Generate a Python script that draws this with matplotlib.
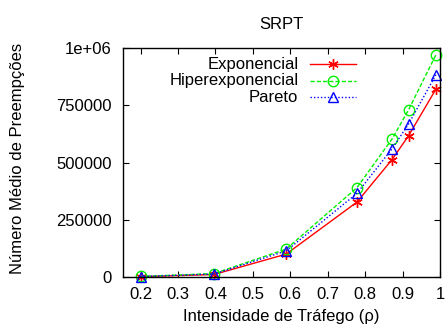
import matplotlib
matplotlib.use("Agg")
import matplotlib.pyplot as plt

plt.rcParams["font.family"] = ["Liberation Sans", "DejaVu Sans"]

rho = [0.2, 0.396, 0.589, 0.778, 0.872, 0.916, 0.989]
exponencial = [1500, 11000, 100000, 327000, 513000, 617000, 820000]
hiperexponencial = [2500, 15000, 122000, 390000, 603000, 730000, 970000]
pareto = [2000, 13000, 114000, 365000, 560000, 668000, 883000]

series = [
    ("Exponencial", exponencial, "#ff0000", "-", (6, 2, 0), "#ff0000"),
    ("Hiperexponencial", hiperexponencial, "#00f000", (0, (3, 1.5)), "o", "none"),
    ("Pareto", pareto, "#0000ff", (0, (1, 1.5)), "^", "none"),
]

x_ticks = [0.2, 0.3, 0.4, 0.5, 0.6, 0.7, 0.8, 0.9, 1.0]
x_labels = ["0.2", "0.3", "0.4", "0.5", "0.6", "0.7", "0.8", "0.9", "1"]
y_ticks = [0, 250000, 500000, 750000, 1000000]
y_labels = ["0", "250000", "500000", "750000", "1e+06"]

fs = 12

fig = plt.figure(figsize=(4.46, 3.29), dpi=100)
ax = fig.add_axes([0.2758, 0.158, 0.7107, 0.696])

for name, vals, color, ls, marker, fc in series:
    ax.plot(rho, vals, color=color, linestyle=ls, linewidth=1.0,
            marker=marker, markersize=7.5, markerfacecolor=fc,
            markeredgecolor=color, markeredgewidth=1.0, clip_on=False)

ax.set_xlim(0.153, 1.0)
ax.set_ylim(0, 1000000)
ax.set_xticks(x_ticks)
ax.set_xticklabels(x_labels)
ax.set_yticks(y_ticks)
ax.set_yticklabels(y_labels)
ax.tick_params(direction="in", top=True, right=True, length=4, width=0.8,
               labelsize=fs, colors="black")
ax.tick_params(axis="y", pad=8)
ax.tick_params(axis="x", pad=7)
for sp in ax.spines.values():
    sp.set_linewidth(1.0)

ax.set_title("SRPT", fontsize=fs, pad=14)
ax.set_xlabel("Intensidade de Tráfego (ρ)", fontsize=fs, labelpad=5)
ax.set_ylabel("Número Médio de Preempções", fontsize=fs)
ax.yaxis.set_label_coords(-0.31, 0.52)

# gnuplot-style key: right-aligned text followed by a sample line
for i, (name, vals, color, ls, marker, fc) in enumerate(series):
    yk = 0.93 - i * 0.073
    ax.text(0.553, yk, name, transform=ax.transAxes, ha="right",
            va="center", fontsize=fs)
    ax.plot([0.59, 0.735], [yk, yk], transform=ax.transAxes, color=color,
            linestyle=ls, linewidth=1.0, clip_on=False)
    ax.plot([0.662], [yk], transform=ax.transAxes, color=color,
            marker=marker, markersize=7.5, markerfacecolor=fc,
            markeredgecolor=color, markeredgewidth=1.0, clip_on=False)

fig.savefig("out.png", dpi=100)
